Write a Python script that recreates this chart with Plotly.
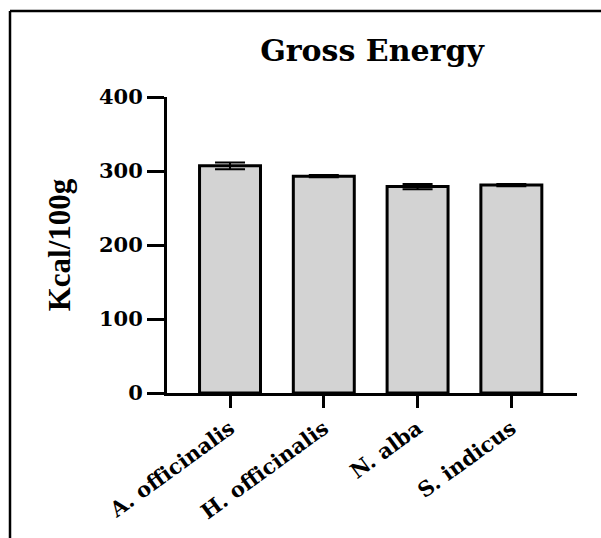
import plotly.graph_objects as go

categories = ["A. officinalis", "H. officinalis", "N. alba", "S. indicus"]
values = [307, 293, 279, 281]
errors = [4.5, 1.5, 3.5, 1.5]
y_ticks = [0, 100, 200, 300, 400]

W, H = 601, 538
L, R, T, B = 167, 24, 97, 145
pw, ph = W - L - R, H - T - B

fig = go.Figure(go.Bar(
    x=list(range(len(categories))), y=values, width=0.65,
    marker=dict(color="#d3d3d3", line=dict(color="black", width=3)),
    error_y=dict(type="data", array=errors, visible=True, color="black",
                 thickness=2, width=15),
))

tick_font = dict(family="DejaVu Serif", size=21, color="black", weight="bold")

fig.update_layout(
    width=W, height=H, margin=dict(l=L, r=R, t=T, b=B),
    paper_bgcolor="white", plot_bgcolor="white", showlegend=False,
    title=dict(text="<b>Gross Energy</b>", x=372 / W, xref="container", xanchor="center",
               y=1 - 50 / H, yref="container", yanchor="middle",
               font=dict(family="DejaVu Serif", size=30, color="black")),
    xaxis=dict(range=[-0.672, 3.70], tickmode="array", tickvals=list(range(len(categories))),
               ticktext=categories, tickangle=-36, ticks="outside", ticklen=12, tickwidth=3,
               tickcolor="black", showline=True, linecolor="black", linewidth=3,
               showgrid=False, zeroline=False, tickfont=tick_font),
    yaxis=dict(range=[0, 400], tickmode="array", tickvals=y_ticks, ticks="outside",
               ticklen=17, tickwidth=3, tickcolor="black", showline=True, linecolor="black",
               linewidth=3, showgrid=False, zeroline=False, tickfont=tick_font,
               title=dict(text="<b>Kcal/100g</b>", standoff=20,
                          font=dict(family="Liberation Serif", size=31, color="black"))),
)

# outer frame (top and left edges)
def px2paper_x(px):
    return (px - L) / pw

def py2paper_y(py):
    return (H - B - py) / ph

fig.add_shape(type="line", xref="paper", yref="paper",
              x0=px2paper_x(10), x1=px2paper_x(601), y0=py2paper_y(11), y1=py2paper_y(11),
              line=dict(color="black", width=2.5))
fig.add_shape(type="line", xref="paper", yref="paper",
              x0=px2paper_x(10), x1=px2paper_x(10), y0=py2paper_y(11), y1=py2paper_y(538),
              line=dict(color="black", width=2.5))

fig.write_html("out.html")
